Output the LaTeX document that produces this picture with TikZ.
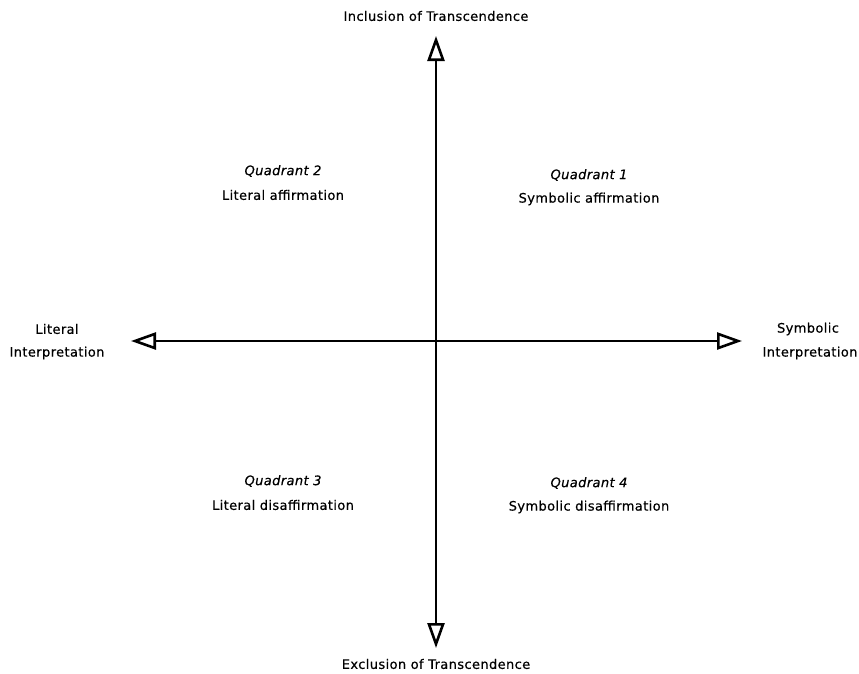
\documentclass[tikz,border=0pt]{standalone}
\usepackage{fontspec}
\setmainfont{DejaVu Sans}[LetterSpace=3,FakeBold=0.5]
\usetikzlibrary{arrows.meta}
\begin{document}
\begin{tikzpicture}[x=1pt,y=-1pt,
  lbl/.style={font=\fontsize{13}{15}\selectfont, inner sep=0pt, anchor=center},
  qlbl/.style={font=\fontsize{13}{15}\selectfont\itshape, inner sep=0pt, anchor=center},
  axis/.style={line width=2pt, {Triangle[open,length=25pt,width=17pt,line width=2.6pt]}-{Triangle[open,length=25pt,width=17pt,line width=2.6pt]}}]
\useasboundingbox (0,0) rectangle (859,673);
\coordinate (top) at (436,36);
\coordinate (bot) at (436,648);
\coordinate (left) at (131,341);
\coordinate (right) at (742,341);
\draw[axis] (bot) -- (top);
\draw[axis] (left) -- (right);
\node[lbl] (inc) at (436,16) {Inclusion of Transcendence};
\node[lbl] (exc) at (436,664) {Exclusion of Transcendence};
\node[lbl] (lit1) at (57,329) {Literal};
\node[lbl] (lit2) at (57,353) {Interpretation};
\node[lbl] (sym1) at (808,329) {Symbolic};
\node[lbl] (sym2) at (810,353) {Interpretation};
\node[qlbl] (q2) at (283,171) {Quadrant 2};
\node[lbl] (q2t) at (283,195) {Literal affirmation};
\node[qlbl] (q1) at (589,175) {Quadrant 1};
\node[lbl] (q1t) at (589,199) {Symbolic affirmation};
\node[qlbl] (q3) at (283,481) {Quadrant 3};
\node[lbl] (q3t) at (283,505) {Literal disaffirmation};
\node[qlbl] (q4) at (589,483) {Quadrant 4};
\node[lbl] (q4t) at (589,507) {Symbolic disaffirmation};
\end{tikzpicture}
\end{document}
